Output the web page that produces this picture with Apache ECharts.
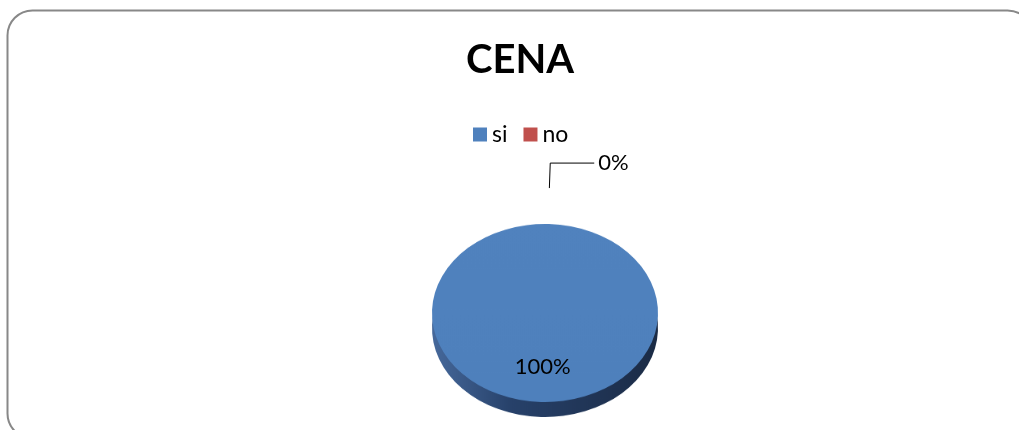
<!DOCTYPE html>
<html>
<head>
<meta charset="utf-8">
<script src="https://cdn.jsdelivr.net/npm/echarts@6/dist/echarts.min.js"></script>
<style>
  html, body { margin: 0; padding: 0; background: #ffffff; }
  #wrap { position: relative; width: 1019px; height: 430px; overflow: hidden; background: #fff; }
  #pie3d { position: absolute; left: 0; top: 0; width: 1019px; height: 600px;
           transform: scaleY(0.788); transform-origin: 0 313px; }
  #overlay { position: absolute; left: 0; top: 0; width: 1019px; height: 430px; }
</style>
</head>
<body>
<div id="wrap">
  <div id="pie3d"></div>
  <div id="overlay"></div>
</div>
<script>
// ---- data ----
const titleText = 'CENA';
const categories = ['si', 'no'];
const values = [100, 0];
const colors = ['#4f81bd', '#c0504d'];

const FONT = 'Lato, "Open Sans", sans-serif';
const seriesData = categories.map((c, i) => ({ name: c, value: values[i] }));

// ---- 3D-looking pie body (vertically squashed) ----
const pieChart = echarts.init(document.getElementById('pie3d'), null, { renderer: 'canvas' });
pieChart.setOption({
  animation: false,
  series: [
    {
      type: 'pie', silent: true, center: [545, 332], radius: 113, startAngle: 88,
      label: { show: false }, labelLine: { show: false },
      itemStyle: {
        color: new echarts.graphic.LinearGradient(0, 0, 1, 0, [
          { offset: 0, color: '#46699b' },
          { offset: 0.35, color: '#27416a' },
          { offset: 1, color: '#1b2b45' }
        ])
      },
      data: seriesData
    },
    {
      type: 'pie', silent: true, center: [545, 313], radius: 113, startAngle: 88,
      label: { show: false }, labelLine: { show: false },
      color: colors,
      data: seriesData.map((d, i) => ({
        name: d.name, value: d.value,
        itemStyle: { color: new echarts.graphic.LinearGradient(0, 0, 0, 1, [
          { offset: 0, color: i === 0 ? '#5082be' : colors[i] },
          { offset: 1, color: i === 0 ? '#4e80bc' : colors[i] }
        ]) }
      }))
    }
  ]
});

// ---- overlay: frame, title, legend, labels ----
const ov = echarts.init(document.getElementById('overlay'), null, { renderer: 'canvas' });
ov.setOption({
  animation: false,
  graphic: [{
    type: 'rect', silent: true,
    shape: { x: 7.5, y: 10.5, width: 1025, height: 428, r: 25 },
    style: { fill: 'transparent', stroke: '#888888', lineWidth: 2 }
  }],
  title: {
    text: titleText, left: 461, top: 35,
    textStyle: { fontFamily: FONT, fontWeight: 'bold', fontSize: 40, color: '#000' }
  },
  legend: {
    left: 468, top: 118, itemWidth: 14, itemHeight: 14, itemGap: 16, icon: 'rect',
    textStyle: { fontFamily: FONT, fontSize: 23, color: '#000' },
    data: categories.map((c, i) => ({ name: c, itemStyle: { color: colors[i], opacity: 1 } }))
  },
  series: [{
    type: 'pie', center: [545, 313], radius: 125, startAngle: 88,
    avoidLabelOverlap: false, silent: true,
    color: colors,
    itemStyle: { color: 'rgba(0,0,0,0)', borderWidth: 0 },
    labelLayout: function (p) { return p.dataIndex === 0 ? { dy: -12 } : {}; },
    data: seriesData.map((d, i) => ({
      name: d.name, value: d.value,
      itemStyle: { color: 'rgba(0,0,0,0)' },
      label: i === 0
        ? { show: true, position: 'inside', formatter: '{d}%', fontFamily: FONT, fontSize: 22, color: '#000', opacity: 1 }
        : { show: true, position: 'outside', formatter: '{d}%', fontFamily: FONT, fontSize: 22, color: '#000', opacity: 1, distanceToLabelLine: 4 },
      labelLine: i === 0 ? { show: false } : { show: true, length: 25, length2: 44, smooth: false,
        lineStyle: { color: '#000', width: 1, opacity: 1 } }
    }))
  }]
});
</script>
</body>
</html>
